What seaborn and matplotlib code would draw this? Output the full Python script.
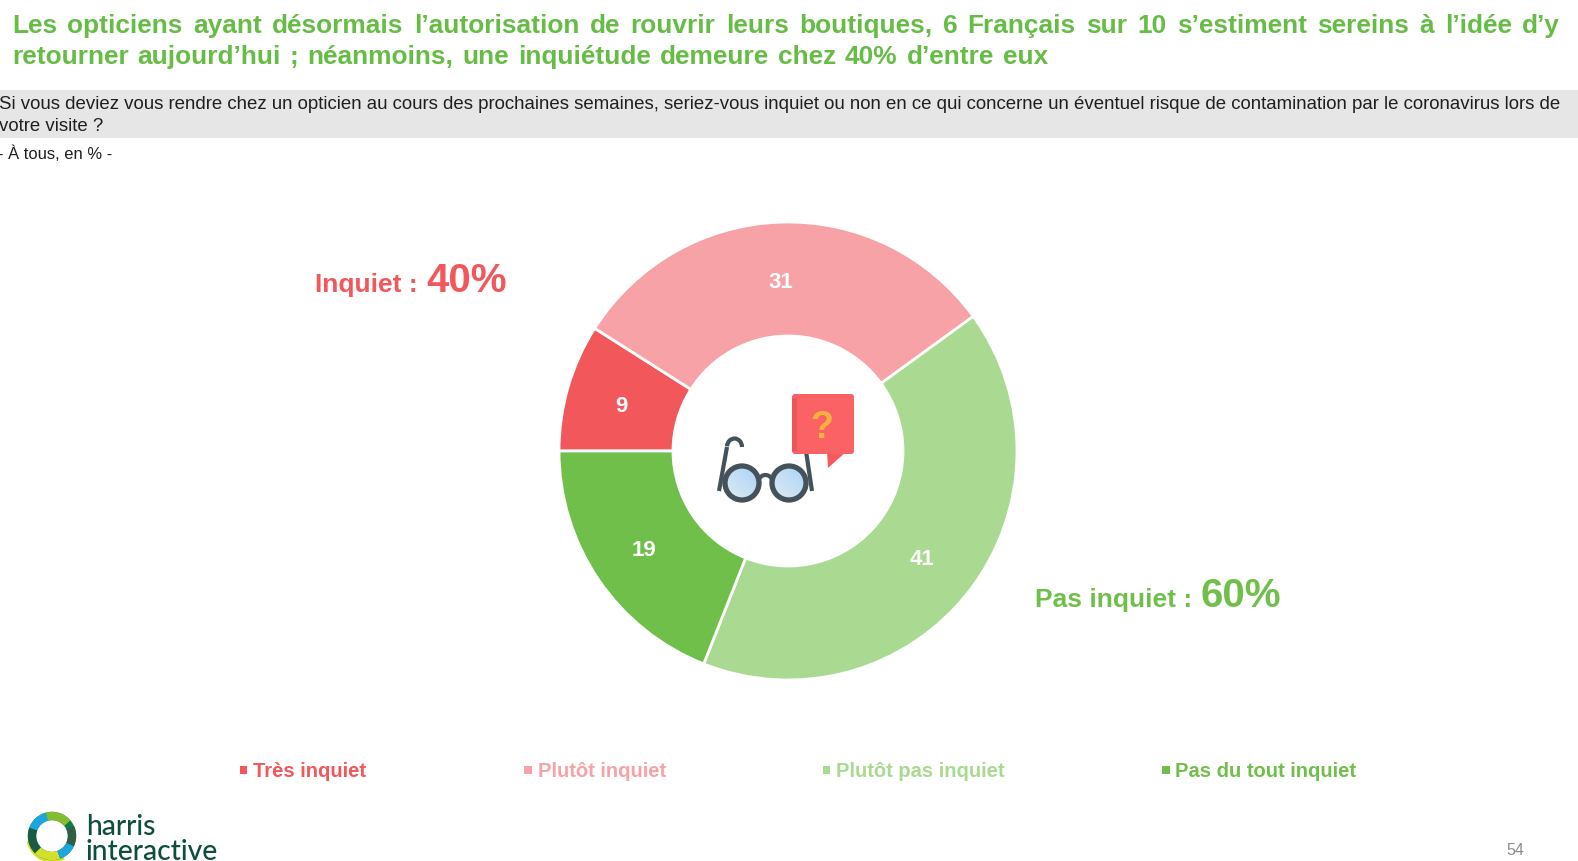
import matplotlib
matplotlib.use('agg')
import matplotlib.pyplot as plt
from matplotlib.patches import Circle, Rectangle, FancyBboxPatch, Polygon, Arc, PathPatch
from matplotlib.path import Path
import numpy as np
import seaborn as sns

W, H = 1578, 862

categories = ['Très inquiet', 'Plutôt inquiet', 'Plutôt pas inquiet', 'Pas du tout inquiet']
values = [9, 31, 41, 19]
colors = ['#f2575b', '#f7a2a6', '#aad991', '#70bf4b']
group_labels = ['Inquiet : ', 'Pas inquiet : ']
group_values = ['40%', '60%']

title_lines = ["Les opticiens ayant désormais l’autorisation de rouvrir leurs boutiques, 6 Français sur 10 s’estiment sereins à l’idée d’y",
               "retourner aujourd’hui ; néanmoins, une inquiétude demeure chez 40% d’entre eux"]
question_lines = ["Si vous deviez vous rendre chez un opticien au cours des prochaines semaines, seriez-vous inquiet ou non en ce qui concerne un éventuel risque de contamination par le coronavirus lors de",
                  "votre visite ?"]
base_note = "- À tous, en % -"
page_no = "54"

TITLE_GREEN = '#66bd45'
DARK = '#1f1f1f'

sns.set_theme(style='white')
plt.rcParams['font.family'] = ['Liberation Sans', 'DejaVu Sans']

fig = plt.figure(figsize=(W/100, H/100), dpi=100, facecolor='white')
ax = fig.add_axes([0, 0, 1, 1])


def Y(y):
    # picture rows run downward, the axes run upward
    return H - y


def justified(line, x0, x1, y, **kw):
    # place a line word by word so it fills x0..x1, like the slide text
    r = fig.canvas.get_renderer()
    words = line.split(' ')
    tmp = [ax.text(0, 0, w, **kw) for w in words]
    widths = [t.get_window_extent(r).width for t in tmp]
    for t in tmp:
        t.remove()
    gap = (x1 - x0 - sum(widths)) / (len(words) - 1)
    x = x0
    for w, wd in zip(words, widths):
        ax.text(x, Y(y), w, ha='left', va='baseline', **kw)
        x += wd + gap


def fitted_size(line, width, size, **kw):
    # font size at which one whole line comes out at the given width
    t = ax.text(0, 0, line, fontsize=size, **kw)
    w = t.get_window_extent(fig.canvas.get_renderer()).width
    t.remove()
    return size * width / w


# donut
cx, cy, r_out, r_in = 788, 452, 229, 115
wedges, _, autotexts = ax.pie(
    values, colors=colors, center=(cx, Y(cy)), radius=r_out,
    startangle=180, counterclock=False, frame=True,
    autopct=lambda p: f'{p:.0f}', pctdistance=0.75,
    wedgeprops=dict(width=r_out - r_in, edgecolor='white', linewidth=2),
    textprops=dict(color='white', fontweight='bold', fontsize=16))
for t in autotexts:
    px, py = t.get_position()
    t.set_position((px - 1.5, py - 2))

ax.set_xlim(0, W)
ax.set_ylim(0, H)
ax.set_aspect('auto')
ax.set_axis_off()

# header
ax.add_patch(Rectangle((0, Y(139)), W, 48, fc='#e6e6e6', ec='none', zorder=0))
title_kw = dict(color=TITLE_GREEN, fontweight='bold', fontsize=18.9)
justified(title_lines[0], 12, 1560, 33, **title_kw)
justified(title_lines[1], 12, 1048, 64, **title_kw)
q_size = fitted_size(question_lines[0], 1564, 13.5)
ax.text(-1, Y(109), question_lines[0], ha='left', va='baseline', color=DARK, fontsize=q_size)
ax.text(-1, Y(131), question_lines[1], ha='left', va='baseline', color=DARK, fontsize=q_size)
ax.text(-2, Y(159), base_note, ha='left', va='baseline', color=DARK, fontsize=11.9)

# group totals
ax.text(315, Y(292), group_labels[0], color=colors[0], fontweight='bold', fontsize=19, va='baseline')
ax.text(426, Y(292), group_values[0], color=colors[0], fontweight='bold', fontsize=29, va='baseline')
ax.text(1035, Y(607), group_labels[1], color=colors[3], fontweight='bold', fontsize=19, va='baseline')
ax.text(1201, Y(607), group_values[1], color=colors[3], fontweight='bold', fontsize=29, va='baseline')

# legend
square_x = [243.5, 528, 826.5, 1166]
text_x = [253, 538, 836, 1175]
sns.scatterplot(x=square_x, y=[Y(771)] * 4, hue=categories, palette=colors, hue_order=categories,
                marker='s', s=28, linewidth=0, legend=False, ax=ax, clip_on=False)
for name, col, tx in zip(categories, colors, text_x):
    ax.text(tx, Y(777), name, color=col, fontweight='bold', fontsize=14.5, va='baseline')

# glasses and question bubble icon
steel = '#46525a'
grad = np.linspace(0, 1, 64)[None, :]
grad = grad + grad.T[::-1]
for lx in (742, 789):
    im = ax.imshow(grad, extent=(lx - 16, lx + 16, Y(500), Y(468)), cmap=sns.light_palette('#b5d8f5', as_cmap=True),
                   vmin=-0.6, vmax=1.6, aspect='auto', zorder=4)
    lens = Circle((lx, Y(484)), 16, transform=ax.transData, fc='none', ec='none', zorder=4)
    ax.add_patch(lens)
    im.set_clip_path(lens)
    ax.add_patch(Circle((lx, Y(484)), 17, fc='none', ec=steel, lw=3.8, zorder=5))
ax.add_patch(Arc((765.5, Y(483)), 14, 14, theta1=25, theta2=155, ec=steel, lw=3, zorder=5))
ax.add_patch(PathPatch(Path([(719, Y(492)), (727, Y(448))]), fc='none', ec=steel, lw=3, zorder=5))
ax.add_patch(Arc((734.5, Y(448)), 15, 17, theta1=0, theta2=175, ec=steel, lw=3, zorder=5))
ax.add_patch(PathPatch(Path([(812, Y(492)), (806, Y(452))]), fc='none', ec=steel, lw=3, zorder=5))
ax.add_patch(Polygon([(827, Y(452)), (847, Y(452)), (828, Y(469))], fc='#f5595c', ec='none', zorder=5))
ax.add_patch(FancyBboxPatch((795, Y(452)), 56, 54, boxstyle='round,pad=3', fc='#fb6266', ec='none', zorder=6))
ax.add_patch(Rectangle((792, Y(452)), 5, 53, fc='#ee5458', ec='none', zorder=6))
ax.text(822, Y(428), '?', color='#f6b23c', fontweight='bold', fontsize=27, ha='center', va='center', zorder=7)

# logo
lc, ly = 52, 837
ax.add_patch(Arc((lc, Y(ly + 1)), 47, 47, theta1=190, theta2=300, ec='#d4de2c', lw=3, zorder=2))
for t1, t2, col in [(0, 360, '#0f7d45'), (40, 105, '#84bd2e'), (105, 160, '#1ba7dc'), (225, 290, '#d4de2c'),
                    (290, 335, '#1ba7dc'), (160, 225, '#1a5c43'), (335, 385, '#2f5f46')]:
    ax.add_patch(Arc((lc, Y(ly)), 40, 40, theta1=t1, theta2=t2, ec=col, lw=6, zorder=3))
logo_kw = dict(color='#0f4d3f', fontsize=20.3, family='Lato', fontweight='medium', va='baseline')
ax.text(86, Y(835), 'harris', **logo_kw)
ax.text(86, Y(860), 'interactive', **logo_kw)

ax.text(1506, Y(855), page_no, color='#8c8c8c', fontsize=11.5, va='baseline')

ax.set_xlim(0, W)
ax.set_ylim(0, H)
fig.savefig('out.png', dpi=100, facecolor='white')
